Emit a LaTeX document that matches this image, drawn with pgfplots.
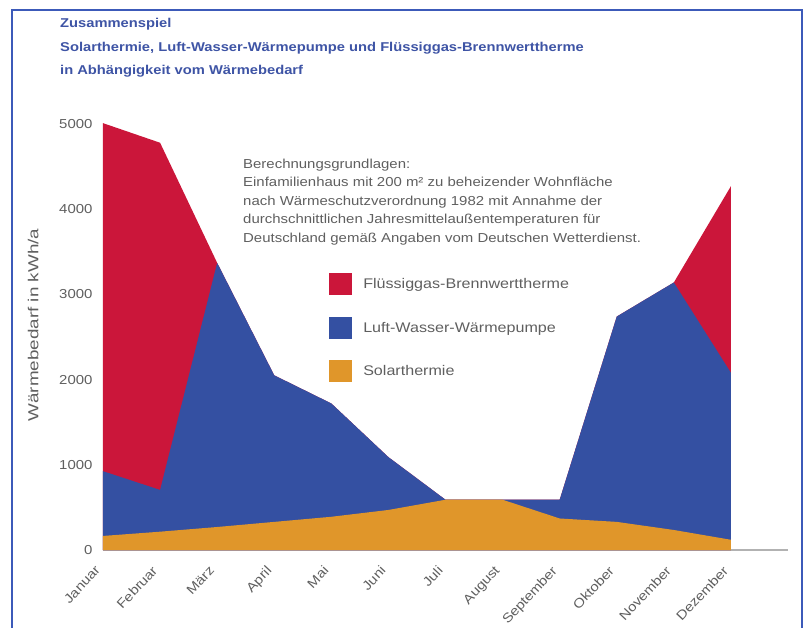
\documentclass[border=0pt]{standalone}
\usepackage{fontspec}
\setmainfont[FakeStretch=1.15]{Liberation Sans}
\newfontfamily\ylabfont[FakeStretch=1.3]{Liberation Sans}
\usepackage{pgfplots}
\pgfplotsset{compat=1.18}
\definecolor{gasred}{RGB}{203,22,58}
\definecolor{pumpblue}{RGB}{52,80,162}
\definecolor{solarorange}{RGB}{224,150,42}
\definecolor{titleblue}{RGB}{62,84,165}
\definecolor{frameblue}{RGB}{60,90,185}
\definecolor{txtgray}{RGB}{95,95,95}
\begin{document}
\begin{tikzpicture}[x=1pt,y=1pt]
\useasboundingbox (0,0) rectangle (806,-628);
\draw[frameblue, line width=2.5pt] (12,-700) -- (12,-10) -- (802,-10) -- (802,-700);
\node[anchor=north west, align=left, inner sep=0pt, text=titleblue,
      font=\bfseries\fontsize{12.8}{23.2}\selectfont] at (60,-18.5)
  {Zusammenspiel\\Solarthermie, Luft-Wasser-Wärmepumpe und Flüssiggas-Brennwerttherme\\in Abhängigkeit vom Wärmebedarf};
\begin{axis}[
  at={(103pt,-550pt)}, anchor=south west,
  scale only axis, width=685pt, height=426pt,
  xmin=0, xmax=12, ymin=0, ymax=5000, clip=false,
  axis x line=bottom, axis y line=left,
  axis line style={-},
  x axis line style={draw=black!30, line width=1.2pt},
  y axis line style={draw=none},
  major tick length=0pt,
  xtick={0,...,11},
  xticklabels={Januar,Februar,März,April,Mai,Juni,Juli,August,September,Oktober,November,Dezember},
  ytick={0,1000,...,5000},
  /pgf/number format/1000 sep={},
  /pgf/number format/assume math mode=true,
  x tick label style={xshift=-9pt, yshift=-10pt, rotate=47, anchor=north east, text=txtgray, font=\fontsize{13}{15}\selectfont},
  y tick label style={text=txtgray, font=\fontsize{13}{15}\selectfont, xshift=-7pt},
  ylabel={Wärmebedarf in kWh/a},
  ylabel style={at={(axis description cs:-0.102,0.528)}, anchor=center, text=txtgray, font=\ylabfont\fontsize{14.5}{16}\selectfont},
  legend style={at={(axis description cs:0.330,0.650)}, anchor=north west, draw=none, fill=none,
    inner sep=0pt, row sep=21.5pt, text=txtgray, font=\fontsize{14}{16}\selectfont,
    /tikz/every odd column/.append style={column sep=9pt}},
  legend cell align=left,
  legend image code/.code={\fill[#1] (0pt,-11pt) rectangle (23pt,11pt);},
]
\addplot[fill=gasred, draw=none] coordinates {(0,5010)(1,4780)(2,3370)(3,2050)(4,1720)(5,1090)(6,590)(7,590)(8,590)(9,2740)(10,3140)(11,4270)} \closedcycle;
\addlegendentry{Flüssiggas-Brennwerttherme}
\addplot[fill=pumpblue, draw=none] coordinates {(0,925)(1,705)(2,3370)(3,2050)(4,1720)(5,1090)(6,590)(7,590)(8,590)(9,2740)(10,3140)(11,2080)} \closedcycle;
\addlegendentry{Luft-Wasser-Wärmepumpe}
\addplot[fill=solarorange, draw=none] coordinates {(0,165)(1,215)(2,270)(3,330)(4,390)(5,470)(6,590)(7,590)(8,370)(9,330)(10,235)(11,120)} \closedcycle;
\addlegendentry{Solarthermie}
\end{axis}
\node[anchor=north west, align=left, inner sep=0pt, text=txtgray,
      font=\fontsize{13}{18.5}\selectfont] at (243,-158.5)
  {Berechnungsgrundlagen:\\Einfamilienhaus mit 200 m² zu beheizender Wohnfläche\\nach Wärmeschutzverordnung 1982 mit Annahme der\\durchschnittlichen Jahresmittelaußentemperaturen für\\Deutschland gemäß Angaben vom Deutschen Wetterdienst.};
\end{tikzpicture}
\end{document}
